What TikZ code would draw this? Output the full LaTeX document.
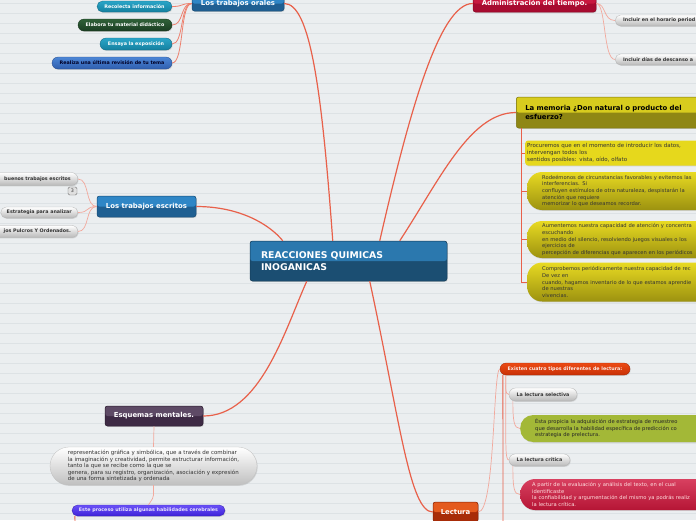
\documentclass[tikz,border=0pt]{standalone}
\usepackage{fontspec}
\setmainfont{DejaVu Sans}
\usetikzlibrary{calc,shadows}
\definecolor{bg}{HTML}{EBEEF0}
\definecolor{bgline}{HTML}{DDE2E5}
\definecolor{blueT}{HTML}{2B78AE}\definecolor{blueB}{HTML}{1B4E72}\definecolor{blueD}{HTML}{143C58}
\definecolor{sblueT}{HTML}{2F86C6}\definecolor{sblueB}{HTML}{1F5F92}\definecolor{sblueD}{HTML}{184C76}
\definecolor{redT}{HTML}{C8183F}\definecolor{redB}{HTML}{A80B30}
\definecolor{memT}{HTML}{D8CC1E}\definecolor{memB}{HTML}{8F8714}
\definecolor{yel}{HTML}{E6D81C}\definecolor{yelT}{HTML}{E8DA22}\definecolor{yelB}{HTML}{9C9210}
\definecolor{tealT}{HTML}{2AA5C8}\definecolor{tealB}{HTML}{14809F}
\definecolor{grnT}{HTML}{2F6138}\definecolor{grnB}{HTML}{1A3D22}
\definecolor{rbluT}{HTML}{4C86D6}\definecolor{rbluB}{HTML}{2F5EAE}
\definecolor{purT}{HTML}{5E4A66}\definecolor{purB}{HTML}{3E2A45}
\definecolor{procT}{HTML}{6A50F8}\definecolor{procB}{HTML}{3E22D8}
\definecolor{lecT}{HTML}{E45A1E}\definecolor{lecB}{HTML}{A82C08}
\definecolor{exT}{HTML}{EC4A14}\definecolor{exB}{HTML}{C83006}
\definecolor{grbox}{HTML}{A3B837}
\definecolor{rbT}{HTML}{D84060}\definecolor{rbB}{HTML}{B51535}
\definecolor{lnmain}{HTML}{E8604A}
\definecolor{lnlight}{HTML}{F2A89C}
\definecolor{txtd}{HTML}{333333}
\newcommand\hfnt{\fontsize{6.9}{8.3}\selectfont\bfseries}
\newcommand\pfnt{\fontsize{4.8}{5.8}\selectfont\bfseries}
\newcommand\sfnt{\fontsize{5.5}{6.6}\selectfont}
\newcommand\rfnt{\fontsize{5.2}{6.6}\selectfont}
\newcommand\cfnt{\fontsize{9.3}{11.6}\selectfont\bfseries}
\tikzset{
  split/.style n args={3}{draw=#3, line width=0.5pt, fill=#2,
    path picture={\fill[#1] (path picture bounding box.north west) rectangle (path picture bounding box.east);}},
  shad/.style={drop shadow={opacity=0.25,shadow xshift=0.7pt,shadow yshift=-0.9pt}},
  hbox/.style={rounded corners=2.5pt, inner sep=0pt, text=white, font=\hfnt, shad},
  pillc/.style n args={3}{rounded corners=#3, top color=#1, bottom color=#2, draw=#2!80!black, line width=0.3pt,
    inner sep=0pt, font=\pfnt, shad},
  gpill/.style={rounded corners=#1, top color=white, bottom color=black!28, draw=black!30, line width=0.3pt,
    inner sep=0pt, font=\pfnt, text=txtd, shad},
  mainln/.style={draw=lnmain, line width=1.2pt},
  subln/.style={draw=lnmain, line width=0.8pt},
  lightln/.style={draw=lnlight, line width=0.7pt},
}
\begin{document}
\begin{tikzpicture}[x=1pt,y=-1pt]
\useasboundingbox (0,0) rectangle (696,520);
\clip (0,0) rectangle (696,520);
\fill[bg] (0,0) rectangle (696,520);
\foreach \k in {0,...,51} {\draw[bgline, line width=0.6pt] (0,3.3+10*\k) -- (696,3.3+10*\k);}

% central
\node[split={blueT}{blueB}{blueD}, hbox, font=\cfnt, minimum width=197pt, minimum height=40pt,
  align=left, text width=175pt] (c) at (348.5,261) {REACCIONES QUIMICAS\\INOGANICAS};

% Los trabajos orales
\node[split={sblueT}{sblueB}{sblueD}, hbox, minimum width=92pt, minimum height=15pt] (or) at (238,3.5) {Los trabajos orales};
\node[pillc={tealT}{tealB}{5.5pt}, text=white, minimum width=75pt, minimum height=11pt] (or1) at (134.5,6.5) {Recolecta información};
\node[pillc={grnT}{grnB}{6pt}, text=white, minimum width=94pt, minimum height=12pt] (or2) at (125,25) {Elabora tu material didáctico};
\node[pillc={tealT}{tealB}{6pt}, text=white, minimum width=72pt, minimum height=12pt] (or3) at (136,44) {Ensaya la exposición};
\node[pillc={rbluT}{rbluB}{6pt}, text={black!85!blue}, minimum width=120pt, minimum height=12pt] (or4) at (112,63) {Realiza una última revisión de tu tema};

% Administracion del tiempo
\node[split={redT}{redB}{redB!80!black}, hbox, minimum width=123pt, minimum height=17pt] (ad) at (534.5,3.5) {Administración del tiempo.};
\node[gpill=5.5pt, anchor=west, minimum height=11pt, text width=110pt, align=left, inner xsep=8pt] (ad1) at (615,20.5) {Incluir en el horario period};
\node[gpill=5.5pt, anchor=west, minimum height=11pt, text width=110pt, align=left, inner xsep=8pt] (ad2) at (615,59.5) {Incluir días de descanso a};

% La memoria
\node[split={memT}{memB}{memB!85!black}, hbox, text=black, anchor=west, minimum height=31pt, text width=200pt,
  align=left, inner xsep=9pt] (mem) at (516,112.5) {La memoria ¿Don natural o producto del\\esfuerzo?};
\node[fill=yel, rounded corners=3pt, anchor=west, minimum height=25pt, text width=200pt, align=left,
  inner xsep=2pt, inner ysep=0pt, font=\sfnt, text=txtd, shad] (y1) at (525,153)
  {Procuremos que en el momento de introducir los datos,\\intervengan todos los\\sentidos posibles: vista, oído, olfato};
\node[top color=yelT, bottom color=yelB, rounded corners=15pt, anchor=west, minimum height=38pt, text width=200pt,
  align=left, inner xsep=15pt, inner ysep=0pt, font=\rfnt, text=txtd, shad] (y2) at (527,191)
  {Rodeémonos de circunstancias favorables y evitemos las\\interferencias. Si\\confluyen estímulos de otra naturaleza, despistarán la\\atención que requiere\\memorizar lo que deseamos recordar.};
\node[top color=yelT, bottom color=yelB, rounded corners=15pt, anchor=west, minimum height=37pt, text width=200pt,
  align=left, inner xsep=15pt, inner ysep=0pt, font=\rfnt, text=txtd, shad] (y3) at (527,239.5)
  {Aumentemos nuestra capacidad de atención y concentra\\escuchando\\en medio del silencio, resolviendo juegos visuales o los\\ejercicios de\\percepción de diferencias que aparecen en los periódicos};
\node[top color=yelT, bottom color=yelB, rounded corners=15pt, anchor=west, minimum height=39pt, text width=200pt,
  align=left, inner xsep=15pt, inner ysep=0pt, font=\rfnt, text=txtd, shad] (y4) at (527,282)
  {Comprobemos periódicamente nuestra capacidad de rec\\De vez en\\cuando, hagamos inventario de lo que estamos aprendie\\de nuestras\\vivencias.};

% Los trabajos escritos
\node[split={sblueT}{sblueB}{sblueD}, hbox, minimum width=99pt, minimum height=21pt] (es) at (146.5,206.5) {Los trabajos escritos};
\node[gpill=6.5pt, anchor=east, minimum height=13pt, text width=90pt, align=right, inner xsep=7pt] (es1) at (78,179) {buenos trabajos escritos};
\node[draw=black!55, fill=black!12, rounded corners=1.5pt, minimum width=9pt, minimum height=8pt, inner sep=0pt,
  font=\fontsize{4.8}{5}\selectfont, text=txtd] (bdg) at (72.5,191) {3};
\node[gpill=5.5pt, anchor=east, minimum height=11pt, inner xsep=6pt] (es2) at (78,212.5) {Estrategia para analizar};
\node[gpill=6pt, anchor=east, minimum height=12pt, text width=90pt, align=right, inner xsep=7pt] (es3) at (78,231.5) {jos Pulcros Y Ordenados.};

% Esquemas mentales
\node[split={purT}{purB}{purB!70!black}, hbox, minimum width=98pt, minimum height=20pt] (esq) at (154,416) {Esquemas mentales.};
\node[rounded corners=19pt, top color=white, bottom color=black!25, draw=black!25, line width=0.3pt,
  minimum width=207pt, minimum height=38pt, align=left, inner sep=0pt, font=\sfnt, text=txtd, shad] (esqt) at (153.5,466)
  {representación gráfica y simbólica, que a través de combinar\\la imaginación y creatividad, permite estructurar información,\\tanto la que se recibe como la que se\\genera, para su registro, organización, asociación y expresión\\de una forma sintetizada y ordenada};
\node[pillc={procT}{procB}{5.5pt}, text=white!85!procT, minimum width=153pt, minimum height=11pt] (proc) at (148.5,510.5) {Este proceso utiliza algunas habilidades cerebrales};
\coordinate (procf) at (75,526);

% Lectura
\node[split={lecT}{lecB}{lecB!80!black}, hbox, minimum width=45pt, minimum height=20pt] (lec) at (455.5,512) {Lectura};
\node[pillc={exT}{exB}{6pt}, text=white!90!exT, minimum width=130pt, minimum height=12pt] (ex) at (565,369) {Existen cuatro tipos diferentes de lectura:};
\coordinate (exf) at (503,526);
\node[gpill=6.5pt, minimum width=68pt, minimum height=13pt] (sel) at (543,394.5) {La lectura selectiva};
\node[fill=grbox, rounded corners=13pt, anchor=west, minimum height=27pt, text width=200pt, align=left,
  inner xsep=15pt, inner ysep=0pt, font=\rfnt, text=black!85, shad] (gb) at (520,428.5)
  {Ésta propicia la adquisición de estrategia de muestreo\\que desarrolla la habilidad específica de predicción co\\estrategia de prelectura.};
\node[gpill=6pt, minimum width=61pt, minimum height=12pt] (cri) at (539.5,460) {La lectura crítica};
\node[top color=rbT, bottom color=rbB, rounded corners=15pt, anchor=west, minimum height=31pt, text width=200pt,
  align=left, inner xsep=12pt, inner ysep=0pt, font=\rfnt, text=white!88!red, shad] (rb) at (520,494.5)
  {A partir de la evaluación y análisis del texto, en el cual\\identificaste\\la confiabilidad y argumentación del mismo ya podrás realiz\\la lectura crítica.};

% ---- connectors from centre
\draw[mainln] ($(c.north west)+(83,0)$) .. controls +(-11,-151) and +(26,0) .. (or.east);
\draw[mainln] ($(c.north west)+(130,0)$) .. controls +(30,-131) and +(-33,0) .. (ad.west);
\draw[mainln] ($(c.north west)+(150,0)$) .. controls +(40,-61) and +(-46,0) .. (mem.west);
\draw[mainln] ($(c.north west)+(33,0)$) .. controls +(-13,-16) and +(44,0) .. (es.east);
\draw[mainln] ($(c.south west)+(57,0)$) .. controls +(-22,49) and +(57,0) .. (esq.east);
\draw[mainln] ($(c.south west)+(120,0)$) .. controls +(30,139) and +(-23,0) .. (lec.west);

% orales children
\foreach \n in {or1,or2,or3,or4} {\draw[subln, draw=lnmain!80!white] (or.west) .. controls +(-12,0) and +(12,0) .. (\n.east);}
% admin children
\foreach \n in {ad1,ad2} {\draw[lightln] (ad.east) .. controls +(10,0) and +(-12,0) .. (\n.west);}
% escritos children
\foreach \n in {es1,es2,es3} {\draw[lightln] (es.west) .. controls +(-12,0) and +(12,0) .. (\n.east);}
% memoria children
\foreach \n in {y1,y2,y3,y4} {\draw[subln] ($(mem.south west)+(5,0)$) |- (\n.west);}
% esquemas
\draw[lightln] (esq.south) -- (esqt.north);
\draw[lightln, rounded corners=2pt] (esqt.south) -- ++(0,12) -- (proc.north);
\draw[subln] ($(proc.south west)+(3,0)$) -- (procf);
% lectura
\draw[lightln] (lec.east) .. controls +(17,0) and +(-7,0) .. (ex.west);
\draw[subln] ($(ex.south west)+(3,0)$) -- (exf);
\draw[lightln] ($(ex.south west)+(6,0)$) .. controls +(0,12) and +(-4,0) .. (sel.west);
\draw[lightln] ($(ex.south west)+(6,0)$) .. controls +(0,70) and +(-4,0) .. (cri.west);
\draw[lightln] ($(sel.south west)+(4,0)$) .. controls +(0,20) and +(-6,0) .. (gb.west);
\draw[lightln] ($(cri.south west)+(4,0)$) .. controls +(0,22) and +(-6,0) .. (rb.west);
\end{tikzpicture}
\end{document}
